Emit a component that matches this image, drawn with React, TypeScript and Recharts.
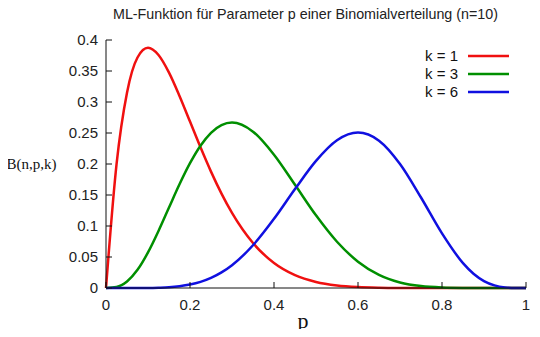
import React from "react";
import { LineChart, Line, XAxis, YAxis } from "recharts";

const pValues = [0, 0.025, 0.05, 0.075, 0.1, 0.125, 0.15, 0.175, 0.2, 0.225, 0.25, 0.275, 0.3, 0.35, 0.4, 0.45, 0.5, 0.55, 0.6, 0.65, 0.7, 0.75, 0.8, 0.85, 0.875, 0.9, 0.925, 0.95, 0.975, 1];
const k1Values = [0, 0.1991, 0.3151, 0.3718, 0.3874, 0.3758, 0.3474, 0.3098, 0.2684, 0.2269, 0.1877, 0.1522, 0.1211, 0.0725, 0.0403, 0.0207, 0.0098, 0.0042, 0.0016, 0.0005, 0.0001, 0, 0, 0, 0, 0, 0, 0, 0, 0];
const k3Values = [0, 0.0016, 0.0105, 0.0293, 0.0574, 0.092, 0.1298, 0.1673, 0.2013, 0.2295, 0.2503, 0.2628, 0.2668, 0.2522, 0.215, 0.1665, 0.1172, 0.0746, 0.0425, 0.0212, 0.009, 0.0031, 0.0008, 0.0001, 0, 0, 0, 0, 0, 0];
const k6Values = [0, 0, 0, 0, 0.0001, 0.0005, 0.0012, 0.0028, 0.0055, 0.0098, 0.0162, 0.0251, 0.0368, 0.0689, 0.1115, 0.1596, 0.2051, 0.2384, 0.2508, 0.2377, 0.2001, 0.146, 0.0881, 0.0401, 0.023, 0.0112, 0.0042, 0.001, 0.0001, 0];

const seriesNames = ["k = 1", "k = 3", "k = 6"];
const seriesKeys = ["k1", "k3", "k6"];
const seriesColors = ["#f01010", "#008f00", "#1010e0"];

const xTicks = [0, 0.2, 0.4, 0.6, 0.8, 1];
const yTicks = [0, 0.05, 0.1, 0.15, 0.2, 0.25, 0.3, 0.35, 0.4];

const titleText = "ML-Funktion für Parameter p einer Binomialverteilung (n=10)";
const xLabel = "p";
const yLabel = "B(n,p,k)";

const data = pValues.map((p, i) => ({
  p,
  k1: k1Values[i],
  k3: k3Values[i],
  k6: k6Values[i],
}));

const sans = '"Liberation Sans", Arial, sans-serif';
const serif = '"Liberation Serif", "Times New Roman", serif';

export default function App() {
  return (
    <div style={{ position: "relative", width: 540, height: 337, margin: -8, background: "#fff" }}>
      <LineChart
        width={540}
        height={337}
        data={data}
        margin={{ top: 40, right: 14, bottom: 19, left: 0 }}
        style={{ fontFamily: sans }}
      >
        <XAxis
          xAxisId="b"
          dataKey="p"
          type="number"
          domain={[0, 1]}
          ticks={xTicks}
          interval={0}
          height={30}
          tickSize={-6}
          tickMargin={17}
          axisLine={{ stroke: "#111", strokeWidth: 1 }}
          tickLine={{ stroke: "#111" }}
          tick={{ fill: "#222", fontSize: 15, fontFamily: sans }}
        />
        <XAxis
          xAxisId="t"
          orientation="top"
          dataKey="p"
          type="number"
          domain={[0, 1]}
          ticks={xTicks}
          interval={0}
          height={0}
          tickSize={-6}
          tick={false}
          axisLine={{ stroke: "#111", strokeWidth: 1 }}
          tickLine={{ stroke: "#111" }}
        />
        <YAxis
          yAxisId="l"
          type="number"
          domain={[0, 0.4]}
          ticks={yTicks}
          interval={0}
          width={106}
          tickSize={-6}
          tickMargin={14}
          axisLine={{ stroke: "#111", strokeWidth: 1 }}
          tickLine={{ stroke: "#111" }}
          tick={{ fill: "#222", fontSize: 15, fontFamily: sans }}
        />
        <YAxis
          yAxisId="r"
          orientation="right"
          type="number"
          domain={[0, 0.4]}
          ticks={yTicks}
          interval={0}
          width={0}
          tickSize={-6}
          tick={false}
          axisLine={{ stroke: "#111", strokeWidth: 1 }}
          tickLine={{ stroke: "#111" }}
        />
        {seriesKeys.map((key, i) => (
          <Line
            key={key}
            xAxisId="b"
            yAxisId="l"
            dataKey={key}
            type="monotone"
            stroke={seriesColors[i]}
            strokeWidth={2.5}
            dot={false}
            activeDot={false}
            isAnimationActive={false}
          />
        ))}
      </LineChart>
      <svg
        width={540}
        height={337}
        style={{ position: "absolute", left: 0, top: 0, pointerEvents: "none" }}
      >
        <text x={305.5} y={18.5} textAnchor="middle" fontFamily={sans} fontSize={14.3} fill="#222">
          {titleText}
        </text>
        <text x={31.5} y={169} textAnchor="middle" fontFamily={serif} fontSize={15} fill="#111">
          {yLabel}
        </text>
        <text x={303} y={328} textAnchor="middle" fontFamily={serif} fontSize={22} fill="#111">
          {xLabel}
        </text>
        {seriesNames.map((name, i) => (
          <g key={name}>
            <text x={458} y={61 + i * 18} textAnchor="end" fontFamily={sans} fontSize={15} fill="#111">
              {name}
            </text>
            <line x1={468} x2={509} y1={56 + i * 18} y2={56 + i * 18} stroke={seriesColors[i]} strokeWidth={2.5} />
          </g>
        ))}
      </svg>
    </div>
  );
}
